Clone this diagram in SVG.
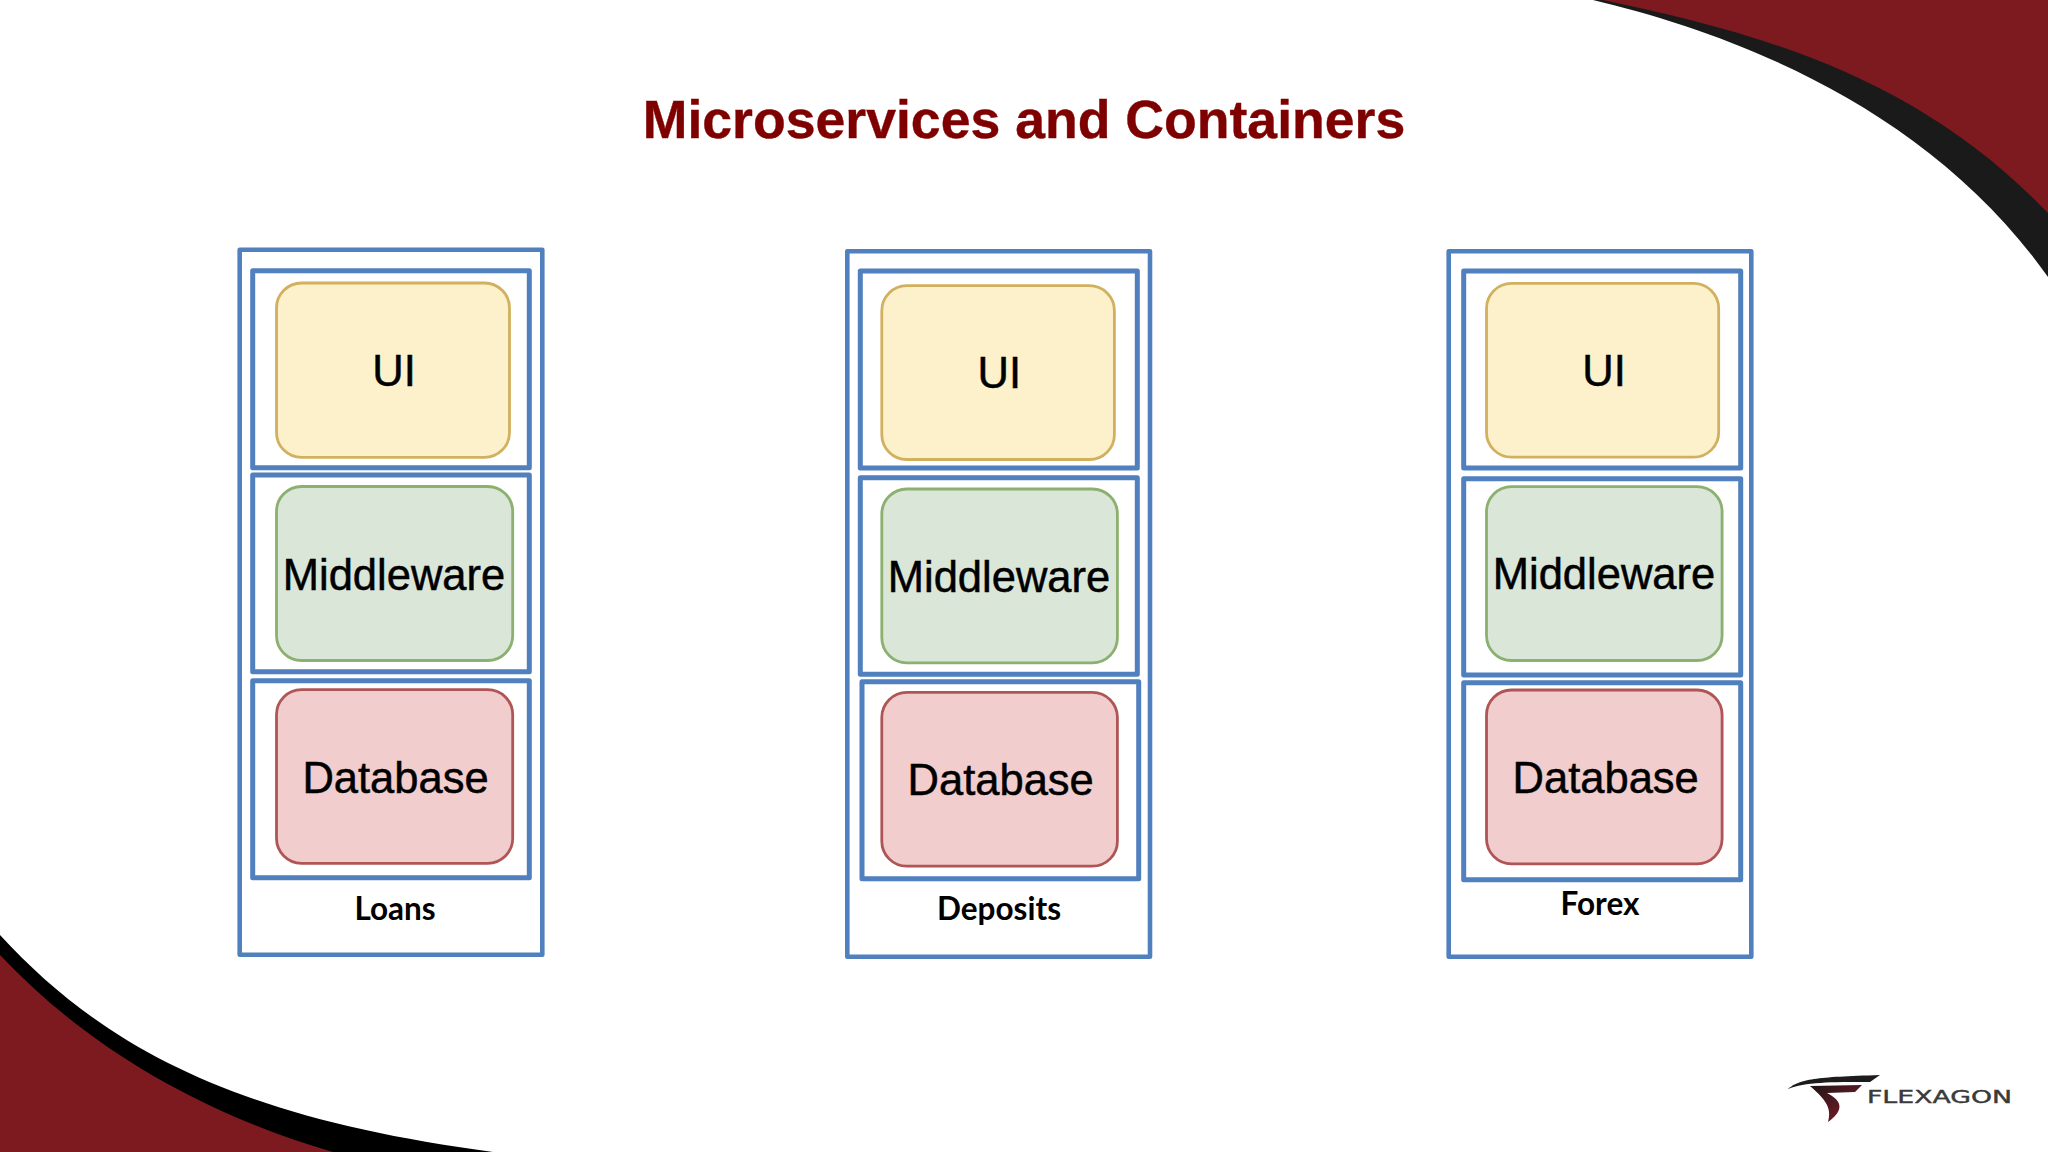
<svg xmlns="http://www.w3.org/2000/svg" width="2048" height="1152" viewBox="0 0 2048 1152">
<style>
.outer{fill:#fff;stroke:#5080bd;stroke-width:4.6;stroke-linejoin:round}
.box{fill:#fff;stroke:#5080bd;stroke-width:5;stroke-linejoin:round}
.ui,.mw,.db{stroke-width:2.8}
.ui{fill:#fdf1cc;stroke:#d1b05f}
.mw{fill:#dae6d8;stroke:#8bb070}
.db{fill:#f1cdcd;stroke:#b05556}
.t{font-family:"Liberation Sans",Arial,sans-serif;font-size:43.5px;fill:#000;stroke:#000;stroke-width:.5px;text-anchor:middle}
.l{font-family:Lato,"Noto Sans",sans-serif;font-weight:700;font-size:31.5px;fill:#000;text-anchor:middle}
.title{font-family:"Liberation Sans",Arial,sans-serif;font-weight:700;font-size:53.6px;fill:#7f0000;stroke:#7f0000;stroke-width:.4px;text-anchor:middle}
</style>
<defs>
<linearGradient id="logoRed" x1="0" y1="0" x2="1" y2="1"><stop offset="0" stop-color="#1c1416"/><stop offset="0.55" stop-color="#5a1a22"/><stop offset="1" stop-color="#8e1c2a"/></linearGradient>
</defs>
<rect width="2048" height="1152" fill="#fff"/>
<g id="background">
<path d="M1593 0C1740 35 1930 110 2048 277V0Z" fill="#1a1a1a"/>
<path d="M1603 0C1770 35 1920 80 2048 213V0Z" fill="#7d1a1f"/>
<path d="M0 935C110 1055 250 1120 493 1152H0Z" fill="#000"/>
<path d="M0 955C80 1040 190 1110 333 1152H0Z" fill="#7d1a1f"/>
</g>
<text id="title" class="title" x="1024" y="138">Microservices and Containers</text>
<g id="loans">
<rect class="outer" x="239.7" y="249.7" width="302.6" height="705"/>
<g id="loans-ui"><rect class="box" x="252.7" y="270.7" width="276.6" height="197"/><rect class="ui" x="276.5" y="283" width="233" height="174.4" rx="25"/><text class="t" x="394" y="385.5">UI</text></g>
<g id="loans-middleware"><rect class="box" x="252.7" y="475" width="276.6" height="196.7"/><rect class="mw" x="276.5" y="486.5" width="236.2" height="174" rx="25"/><text class="t" x="394" y="589.5">Middleware</text></g>
<g id="loans-database"><rect class="box" x="252.7" y="680.7" width="276.6" height="197"/><rect class="db" x="276.5" y="689.7" width="236.2" height="173.6" rx="25"/><text class="t" x="395.5" y="792.9">Database</text></g>
<text class="l" x="395" y="920">Loans</text>
</g>
<g id="deposits">
<rect class="outer" x="847.3" y="251.3" width="302.7" height="705.4"/>
<g id="deposits-ui"><rect class="box" x="860.3" y="271" width="277" height="197"/><rect class="ui" x="881.8" y="285.7" width="232.6" height="173.8" rx="25"/><text class="t" x="999.3" y="388">UI</text></g>
<g id="deposits-middleware"><rect class="box" x="860.3" y="477.7" width="277" height="196.6"/><rect class="mw" x="881.8" y="489" width="235.6" height="173.8" rx="25"/><text class="t" x="999" y="591.5">Middleware</text></g>
<g id="deposits-database"><rect class="box" x="862" y="681.7" width="276.7" height="197"/><rect class="db" x="881.8" y="692.4" width="235.6" height="173.8" rx="25"/><text class="t" x="1000.7" y="795.3">Database</text></g>
<text class="l" x="999" y="919.5">Deposits</text>
</g>
<g id="forex">
<rect class="outer" x="1448.7" y="251.3" width="302.6" height="705.4"/>
<g id="forex-ui"><rect class="box" x="1463.7" y="271" width="277" height="197"/><rect class="ui" x="1486.5" y="283.4" width="232.2" height="173.8" rx="25"/><text class="t" x="1604" y="385.5">UI</text></g>
<g id="forex-middleware"><rect class="box" x="1463.7" y="478.7" width="277" height="196.3"/><rect class="mw" x="1486.5" y="486.7" width="235.6" height="173.8" rx="25"/><text class="t" x="1604" y="589">Middleware</text></g>
<g id="forex-database"><rect class="box" x="1463.7" y="682.7" width="277" height="197"/><rect class="db" x="1486.5" y="690" width="235.6" height="173.8" rx="25"/><text class="t" x="1605.7" y="792.8">Database</text></g>
<text class="l" x="1600" y="914.5">Forex</text>
</g>
<g id="logo">
<path d="M1788 1089C1800 1079 1815 1077 1880 1075L1870 1082C1830 1082 1805 1082 1788 1089Z" fill="#1c1c1c"/>
<path d="M1810 1086L1862 1085L1855 1092L1827 1093C1845 1102 1842 1112 1828 1122C1832 1108 1826 1100 1810 1086Z" fill="url(#logoRed)"/>
<text x="1867" y="1103" font-family="'DejaVu Sans',sans-serif" font-size="17.5" fill="#3a3a3a" stroke="#3a3a3a" stroke-width=".4" textLength="145" lengthAdjust="spacingAndGlyphs">FLEXAGON</text>
</g>
</svg>
